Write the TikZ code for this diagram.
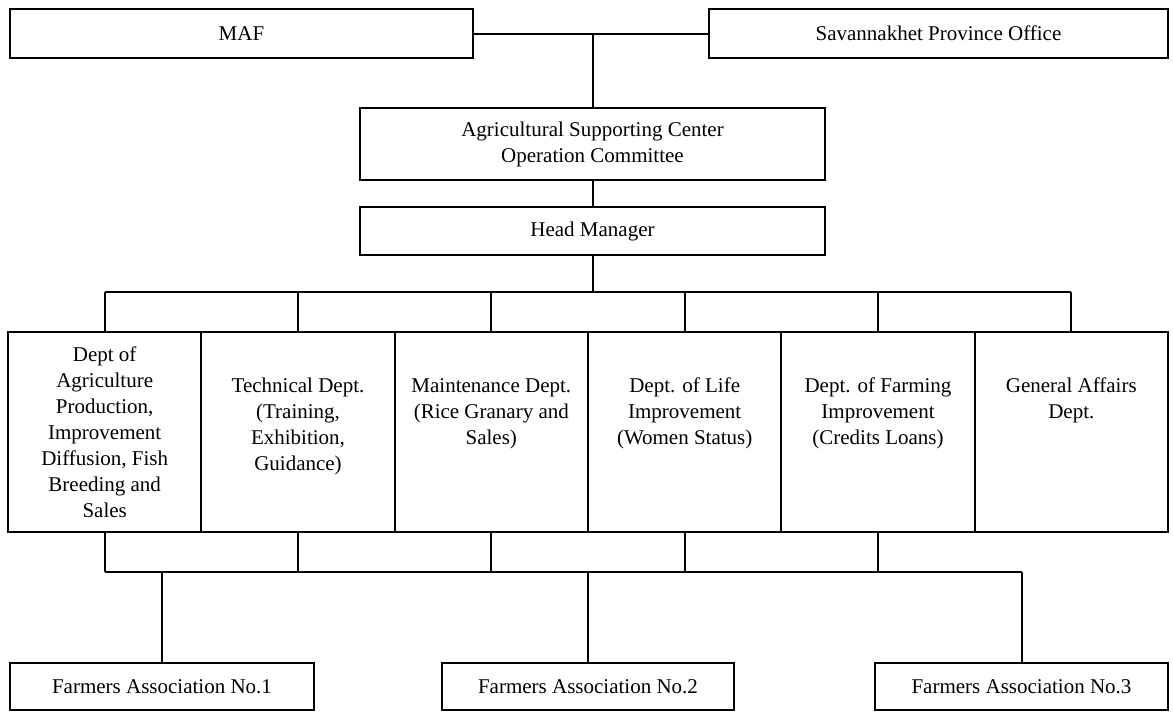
\documentclass[tikz,border=0pt]{standalone}
\usepackage{fontspec}
\setmainfont{Liberation Serif}
\begin{document}
\begin{tikzpicture}[x=1pt,y=-1pt,
  box/.style={draw, line width=2pt, rectangle, inner sep=0pt, align=center,
    font=\fontsize{21}{26}\selectfont},
  dtext/.style={anchor=north, inner sep=0pt, align=center,
    font=\fontsize{21}{26}\selectfont},
  wire/.style={draw, line width=2pt, -}]
\useasboundingbox (0,0) rectangle (1173,713);
% top row
\node[box, minimum width=463, minimum height=49] (maf) at (241.5,33.5) {MAF};
\node[box, minimum width=459, minimum height=49] (sav) at (938.5,33.5) {Savannakhet Province Office};
\node[box, minimum width=465, minimum height=72] (asc) at (592.5,144) {Agricultural Supporting Center\\Operation Committee};
\node[box, minimum width=465, minimum height=48] (head) at (592.5,231) {Head Manager};
% departments
\node[box, minimum width=193.3, minimum height=200] (d1) at (104.7,432) {Dept of\\Agriculture\\Production,\\Improvement\\Diffusion, Fish\\Breeding and\\Sales};
\node[box, minimum width=193.3, minimum height=200] (d2) at (298,432) {};
\node[box, minimum width=193.3, minimum height=200] (d3) at (491.3,432) {};
\node[box, minimum width=193.3, minimum height=200] (d4) at (684.7,432) {};
\node[box, minimum width=193.3, minimum height=200] (d5) at (878,432) {};
\node[box, minimum width=193.3, minimum height=200] (d6) at (1071.3,432) {};
\node[dtext] (t2) at (298,378) {Technical Dept.\\(Training,\\Exhibition,\\Guidance)};
\node[dtext] (t3) at (491.3,378) {Maintenance Dept.\\(Rice Granary and\\Sales)};
\node[dtext] (t4) at (684.7,378) {Dept. of Life\\Improvement\\(Women Status)};
\node[dtext] (t5) at (878,378) {Dept. of Farming\\Improvement\\(Credits Loans)};
\node[dtext] (t6) at (1071.3,378) {General Affairs\\Dept.};
% farmers associations
\node[box, minimum width=304, minimum height=47] (f1) at (162,686.5) {Farmers Association No.1};
\node[box, minimum width=292, minimum height=47] (f2) at (588,686.5) {Farmers Association No.2};
\node[box, minimum width=293, minimum height=47] (f3) at (1021.5,686.5) {Farmers Association No.3};
% buses
\coordinate (tl) at (104.7,292);
\coordinate (tr) at (1071.3,292);
\coordinate (bl) at (104.7,572);
\coordinate (br) at (1021.5,572);
% connectors
\path[wire] (maf.east) -- (sav.west);
\path[wire] (asc.north) -- (asc.north |- maf.east);
\path[wire] (asc.south) -- (head.north);
\path[wire] (head.south) -- (head.south |- tl);
\path[wire] (tl) -- (tr);
\path[wire] (d1.north) -- (tl);
\path[wire] (d2.north) -- (d2.north |- tl);
\path[wire] (d3.north) -- (d3.north |- tl);
\path[wire] (d4.north) -- (d4.north |- tl);
\path[wire] (d5.north) -- (d5.north |- tl);
\path[wire] (d6.north) -- (tr);
\path[wire] (bl) -- (br);
\path[wire] (d1.south) -- (bl);
\path[wire] (d2.south) -- (d2.south |- bl);
\path[wire] (d3.south) -- (d3.south |- bl);
\path[wire] (d4.south) -- (d4.south |- bl);
\path[wire] (d5.south) -- (d5.south |- bl);
\path[wire] (f1.north) -- (f1.north |- bl);
\path[wire] (f2.north) -- (f2.north |- bl);
\path[wire] (f3.north) -- (br);
\end{tikzpicture}
\end{document}
